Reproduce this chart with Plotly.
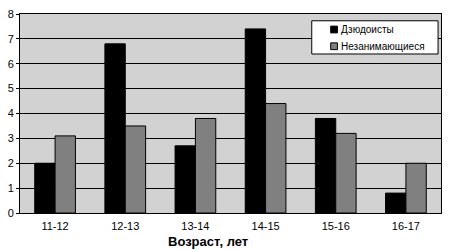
import plotly.graph_objects as go

categories = ["11-12", "12-13", "13-14", "14-15", "15-16", "16-17"]
judo = [2.0, 6.8, 2.7, 7.4, 3.8, 0.8]
nonsport = [3.1, 3.5, 3.8, 4.4, 3.2, 2.0]
y_ticks = [0, 1, 2, 3, 4, 5, 6, 7, 8]
series_names = ["Дзюдоисты", "Незанимающиеся"]
series_colors = ["#000000", "#808080"]

fig = go.Figure()
for vals, name, col in zip([judo, nonsport], series_names, series_colors):
    fig.add_bar(x=categories, y=vals, name=name, showlegend=False,
                marker=dict(color=col, line=dict(color="#000000", width=1)))

fig.update_layout(
    width=450, height=250,
    margin=dict(l=19, r=8, t=9, b=37),
    paper_bgcolor="white",
    plot_bgcolor="#d2d2d2",
    barmode="group",
    bargap=0.42,
    bargroupgap=0,
    font=dict(family="Liberation Sans, Arial", size=11, color="black"),
    showlegend=False,
    xaxis=dict(type="category", showline=True, linecolor="black", linewidth=1,
               mirror=True, ticks="", showgrid=False, ticklabelstandoff=3),
    yaxis=dict(range=[0, 8], tickvals=y_ticks, showgrid=True, gridcolor="black",
               gridwidth=1, showline=True, linecolor="black", linewidth=1,
               mirror=True, ticks="outside", ticklen=3, tickcolor="black",
               zeroline=False),
)

# legend box (drawn manually to match the compact reference legend)
fig.add_shape(type="rect", xref="paper", yref="paper",
              x0=0.693, x1=0.993, y0=0.799, y1=0.966,
              fillcolor="white", line=dict(color="black", width=1), layer="above")
legend_y = [0.922, 0.838]
for name, col, yc in zip(series_names, series_colors, legend_y):
    fig.add_shape(type="rect", xref="paper", yref="paper",
                  x0=0.738, x1=0.754, y0=yc - 0.017, y1=yc + 0.017,
                  fillcolor=col, line=dict(color="black", width=1), layer="above")
    fig.add_annotation(text=name, xref="paper", yref="paper",
                       x=0.758, y=yc, xanchor="left", yanchor="middle",
                       showarrow=False, font=dict(size=10))

fig.add_annotation(text="<b>Возраст, лет</b>", xref="paper", yref="paper",
                   x=0.447, y=-0.142, xanchor="center", yanchor="middle",
                   showarrow=False, font=dict(size=13))
fig.write_html("out.html")
